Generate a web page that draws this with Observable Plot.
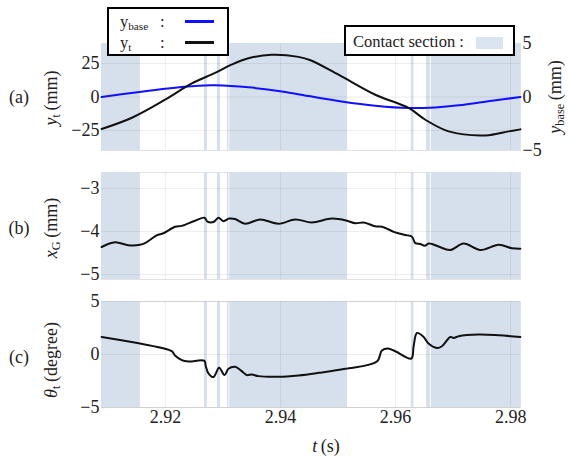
<!DOCTYPE html>
<html>
<head>
<meta charset="utf-8">
<script src="https://cdn.jsdelivr.net/npm/d3@7"></script>
<script src="https://cdn.jsdelivr.net/npm/@observablehq/plot@0.6"></script>
<style>
  html, body { margin: 0; padding: 0; background: #fff; }
  #wrap { position: relative; width: 569px; height: 456px; font-family: "Liberation Serif", "Times New Roman", Times, "DejaVu Serif", serif; color: #222; overflow: hidden; }
  .pl { position: absolute; left: 0; }
  .lab { position: absolute; white-space: nowrap; font-size: 18px; transform: translate(-50%, -50%); line-height: 1; }
  .rot { transform: translate(-50%, -50%) rotate(-90deg); }
  sub { font-size: 0.68em; vertical-align: -0.25em; }
  .box { position: absolute; border: 2px solid #000; background: #fff; box-sizing: border-box; font-size: 16.5px; }
</style>
</head>
<body>
<div id="wrap"></div>
<script>
// ---- data ----
const tDomain = [2.9089, 2.9817];
const tTicks = [2.92, 2.94, 2.96, 2.98];

// contact sections (start / end times)
const contactStart = [2.9089, 2.92678, 2.92904, 2.93078, 2.93118, 2.96273, 2.96539, 2.96621];
const contactEnd   = [2.91565, 2.9273, 2.92957, 2.93104, 2.95165, 2.96318, 2.96603, 2.9817];

// (a) y_t (mm)
const tYt  = [2.90892, 2.91409, 2.91995, 2.92452, 2.92864, 2.93148, 2.93443, 2.93849, 2.94313, 2.94522, 2.95061, 2.95647, 2.96226, 2.96517, 2.96922, 2.97560, 2.97965, 2.9817];
const ytVals = [-23.9, -15.7, -2, 10, 18, 24.2, 29, 31.6, 30, 27.5, 15.4, 1.7, -8.2, -17, -25.7, -28.7, -25.7, -24.2];

// (a) y_base (mm)
const tYb = [2.90892, 2.91409, 2.91995, 2.92575, 2.92865, 2.93445, 2.94025, 2.94522, 2.95061, 2.95647, 2.96226, 2.96690, 2.97095, 2.97675, 2.9817];
const ybaseVals = [0, 0.37, 0.78, 1.06, 1.09, 0.9, 0.52, 0.06, -0.41, -0.81, -1.03, -0.97, -0.78, -0.35, 0];

// (b) x_G (mm)
const tXg = [2.908927, 2.911247, 2.913565, 2.915595, 2.916464, 2.918493, 2.919652, 2.921681, 2.922841, 2.925159, 2.926783, 2.927304, 2.928348, 2.929217, 2.930087, 2.931072, 2.932116, 2.933855, 2.936464, 2.939652, 2.942551, 2.945449, 2.948928, 2.951536, 2.952986, 2.954435, 2.956464, 2.957623, 2.959942, 2.961681, 2.962841, 2.963420, 2.964290, 2.965043, 2.965739, 2.966319, 2.967478, 2.969507, 2.971826, 2.974725, 2.977913, 2.980232, 2.981681];
const xgVals = [-4.36, -4.25, -4.32, -4.31, -4.27, -4.09, -4.04, -3.89, -3.87, -3.75, -3.68, -3.77, -3.78, -3.68, -3.76, -3.70, -3.71, -3.82, -3.72, -3.82, -3.72, -3.79, -3.70, -3.75, -3.81, -3.79, -3.88, -3.89, -4.02, -4.08, -4.12, -4.27, -4.29, -4.33, -4.28, -4.29, -4.35, -4.43, -4.28, -4.43, -4.31, -4.39, -4.40];

// (c) theta_t (degree)
const tTh = [2.908927, 2.915595, 2.921101, 2.921681, 2.922841, 2.924000, 2.926783, 2.927014, 2.927478, 2.928348, 2.929333, 2.930261, 2.930957, 2.932116, 2.933275, 2.934145, 2.935014, 2.936174, 2.939652, 2.943130, 2.946609, 2.951246, 2.956754, 2.957623, 2.958667, 2.959942, 2.962725, 2.963130, 2.963710, 2.964870, 2.965623, 2.967188, 2.968058, 2.969507, 2.970087, 2.970957, 2.974435, 2.977913, 2.981681];
const thVals = [1.65, 1.03, 0.31, -0.09, -0.53, -0.66, -0.6, -1.1, -1.78, -2.13, -1.26, -1.94, -1.35, -1.16, -1.57, -1.94, -1.88, -2.04, -2.10, -1.97, -1.73, -1.35, -0.66, 0.38, 0.56, 0.31, -0.38, 0.78, 2.03, 1.65, 1.09, 0.62, 0.78, 1.65, 1.56, 1.72, 1.88, 1.81, 1.65];

// ---- build tables ----
const zip = (ts, vs) => ts.map((t, i) => ({t, v: vs[i]}));
const contact = contactStart.map((s, i) => ({s, e: contactEnd[i]}));

const FILL = "#d6e0ec";
const GRID = "rgba(0,0,0,0.07)";
const FONT = "'Liberation Serif', 'Times New Roman', Times, 'DejaVu Serif', serif";
const styleBase = {fontFamily: FONT, fontSize: "18px", background: "transparent", color: "#222", overflow: "visible"};
const ML = 101, MR = 49, W = 569;
const intFmt = d3.format("d");

function panel({top, height, mt, mb, yDomain, yTicks, data, stroke, showX}) {
  const marks = [
    Plot.frame({stroke: "#e2e2e2"}),
    Plot.rect(contact, {x1: "s", x2: "e", fill: FILL}),
    Plot.ruleY(yTicks, {stroke: GRID}),
    Plot.ruleX(tTicks, {stroke: GRID})
  ];
  if (data) marks.push(Plot.line(data, {x: "t", y: "v", stroke, strokeWidth: 2, curve: "catmull-rom"}));
  const p = Plot.plot({
    width: W, height, marginLeft: ML, marginRight: MR, marginTop: mt, marginBottom: mb,
    style: styleBase,
    x: {domain: tDomain, ticks: tTicks, tickFormat: d3.format(".2f"), tickSize: 0, tickPadding: 3, label: null, axis: showX ? "bottom" : null},
    y: {domain: yDomain, ticks: yTicks, tickFormat: intFmt, tickSize: 0, tickPadding: 2, label: null},
    marks
  });
  p.classList.add("pl");
  p.style.top = top + "px";
  return p;
}

const wrap = document.getElementById("wrap");

// panel (a): base with y_t
const pa = panel({top: 0, height: 160, mt: 43, mb: 10, yDomain: [-40, 40], yTicks: [-25, 0, 25], data: null});
wrap.appendChild(pa);
// panel (a): overlay with y_base on right axis
{
  const p = Plot.plot({
    width: W, height: 160, marginLeft: ML, marginRight: MR, marginTop: 43, marginBottom: 10,
    style: styleBase,
    x: {domain: tDomain, axis: null},
    y: {domain: [-5, 5], ticks: [-5, 0, 5], tickFormat: intFmt, tickSize: 0, tickPadding: 2, label: null, axis: "right"},
    marks: [Plot.line(zip(tYb, ybaseVals), {x: "t", y: "v", stroke: "#1010ff", strokeWidth: 2, curve: "catmull-rom"})]
  });
  p.classList.add("pl");
  p.style.top = "0px";
  wrap.appendChild(p);
}
// panel (a): y_t line on top
{
  const p = Plot.plot({
    width: W, height: 160, marginLeft: ML, marginRight: MR, marginTop: 43, marginBottom: 10,
    style: styleBase,
    x: {domain: tDomain, axis: null},
    y: {domain: [-40, 40], axis: null},
    marks: [Plot.line(zip(tYt, ytVals), {x: "t", y: "v", stroke: "#111", strokeWidth: 2, curve: "catmull-rom"})]
  });
  p.classList.add("pl");
  p.style.top = "0px";
  wrap.appendChild(p);
}
// panel (b)
wrap.appendChild(panel({top: 160, height: 130, mt: 12, mb: 11, yDomain: [-5.115, -2.63], yTicks: [-5, -4, -3], data: zip(tXg, xgVals), stroke: "#111", showX: false}));
// panel (c)
wrap.appendChild(panel({top: 290, height: 145, mt: 11, mb: 28, yDomain: [-5, 5], yTicks: [-5, 0, 5], data: zip(tTh, thVals), stroke: "#111", showX: true}));

// ---- text labels ----
function label(html, x, y, rot, size) {
  const d = document.createElement("div");
  d.className = "lab" + (rot ? " rot" : "");
  d.style.left = x + "px";
  d.style.top = y + "px";
  if (size) d.style.fontSize = size + "px";
  d.innerHTML = html;
  wrap.appendChild(d);
}
label("(a)", 19, 97);
label("(b)", 19, 228);
label("(c)", 19, 357);
label("<i>y</i><sub>t</sub>&#8201;(mm)", 52, 98, true);
label("<i>x</i><sub>G</sub>&#8201;(mm)", 52, 228, true);
label("<i>&theta;</i><sub>t</sub>&#8201;(degree)", 52, 360, true);
label("<i>y</i><sub>base</sub>&#8201;(mm)", 556, 97, true);
label("<i>t</i>&#8201;(s)", 326, 446);

// legend 1
{
  const b = document.createElement("div");
  b.className = "box";
  Object.assign(b.style, {left: "107px", top: "7px", width: "122px", height: "49px"});
  b.innerHTML = `
    <div style="position:absolute;left:11px;top:3px;">y<sub>base</sub></div>
    <div style="position:absolute;left:51px;top:3px;">:</div>
    <div style="position:absolute;left:76px;top:11px;width:29px;height:3px;background:#1010ff;"></div>
    <div style="position:absolute;left:11px;top:24px;">y<sub>t</sub></div>
    <div style="position:absolute;left:51px;top:24px;">:</div>
    <div style="position:absolute;left:76px;top:32px;width:29px;height:3px;background:#111;"></div>`;
  wrap.appendChild(b);
}
// legend 2
{
  const b = document.createElement("div");
  b.className = "box";
  Object.assign(b.style, {left: "344px", top: "25px", width: "171px", height: "31px"});
  b.innerHTML = `
    <div style="position:absolute;left:7px;top:5px;">Contact section :</div>
    <div style="position:absolute;left:130px;top:10px;width:27px;height:12px;background:#dbe5f1;"></div>`;
  wrap.appendChild(b);
}
</script>
</body>
</html>
